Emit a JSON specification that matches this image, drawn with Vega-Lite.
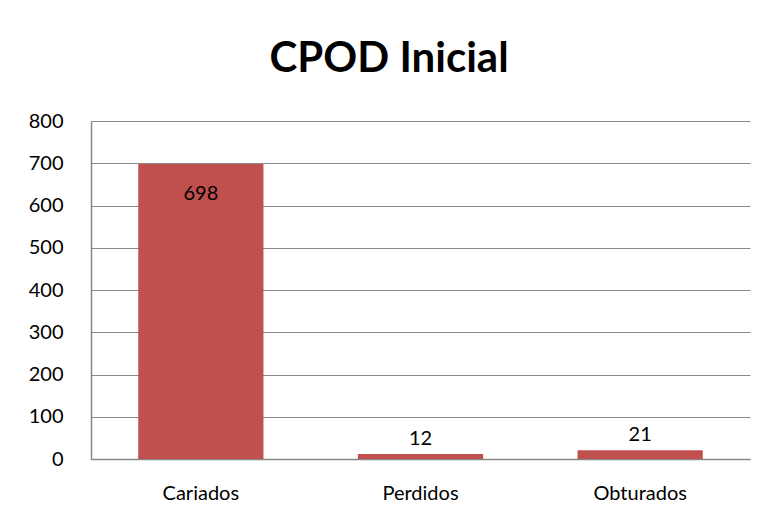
{
  "$schema": "https://vega.github.io/schema/vega-lite/v6.json",
  "autosize": "none",
  "width": 659,
  "height": 338,
  "padding": {"left": 91, "top": 121, "right": 20, "bottom": 61},
  "background": "white",
  "title": {
    "text": "CPOD Inicial",
    "font": "Lato",
    "fontSize": 42,
    "fontWeight": "bold",
    "color": "black",
    "anchor": "middle",
    "frame": "bounds",
    "offset": 30
  },
  "data": {
    "values": [
      {"categoria": "Cariados", "valor": 698},
      {"categoria": "Perdidos", "valor": 12},
      {"categoria": "Obturados", "valor": 21}
    ]
  },
  "encoding": {
    "x": {
      "field": "categoria",
      "type": "nominal",
      "sort": null,
      "scale": {"paddingInner": 0.43, "paddingOuter": 0.215},
      "axis": {
        "title": null,
        "labelAngle": 0,
        "labelFont": "Lato",
        "labelFontSize": 20,
        "labelColor": "black",
        "labelPadding": 24,
        "ticks": false,
        "domainColor": "#888888",
        "domainWidth": 1.5
      }
    },
    "y": {
      "field": "valor",
      "type": "quantitative",
      "scale": {"domain": [0, 800]},
      "axis": {
        "title": null,
        "values": [0, 100, 200, 300, 400, 500, 600, 700, 800],
        "labelFont": "Lato",
        "labelFontSize": 20,
        "labelColor": "black",
        "labelPadding": 28,
        "ticks": false,
        "gridColor": "#888888",
        "gridWidth": 1.2,
        "domainColor": "#888888",
        "domainWidth": 1.5
      }
    }
  },
  "layer": [
    {"mark": {"type": "bar", "color": "#C0504D"}},
    {
      "transform": [{"filter": "datum.valor > 100"}],
      "mark": {"type": "text", "font": "Lato", "fontSize": 20, "color": "black", "baseline": "top", "dy": 20},
      "encoding": {"text": {"field": "valor", "type": "quantitative"}}
    },
    {
      "transform": [{"filter": "datum.valor <= 100"}],
      "mark": {"type": "text", "font": "Lato", "fontSize": 20, "color": "black", "baseline": "bottom", "dy": -5},
      "encoding": {"text": {"field": "valor", "type": "quantitative"}}
    }
  ],
  "config": {"view": {"stroke": null}}
}
